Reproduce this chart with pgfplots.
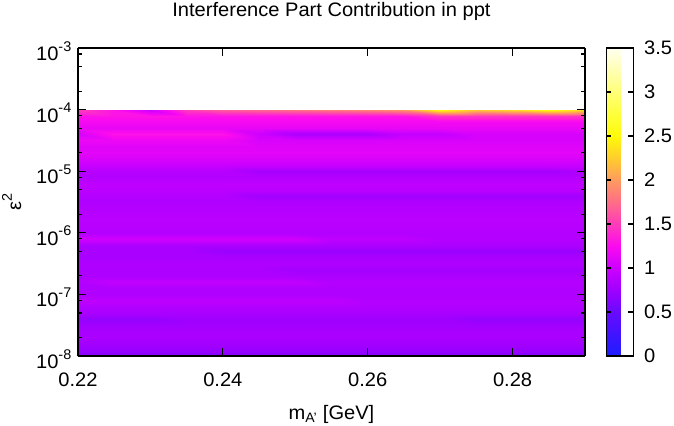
\documentclass[border=0pt]{standalone}
\usepackage{fontspec}
\setmainfont[FakeStretch=1.03]{Liberation Sans}
\usepackage{pgfplots}
\pgfplotsset{compat=1.18}
\newcommand{\fs}{\fontsize{19.5bp}{22bp}\selectfont}
\newcommand{\ex}[1]{\raisebox{0.48em}{\fontsize{14bp}{14bp}\selectfont #1}}
\begin{document}
\fs
\begin{tikzpicture}
\begin{axis}[
  at={(0,0)}, anchor=south west,
  scale only axis, width=507bp, height=308bp,
  view={0}{90},
  xmin=0.22, xmax=0.29, ymin=1e-8, ymax=1e-3, ymode=log,
  xtick={0.22,0.24,0.26,0.28}, xticklabels={0.22,0.24,0.26,0.28},
  ytick={1e-8,1e-7,1e-6,1e-5,1e-4,1e-3},
  yticklabels={10\ex{-8},10\ex{-7},10\ex{-6},10\ex{-5},10\ex{-4},10\ex{-3}},
  minor ytick={2e-8,5e-8,8e-8,2e-7,5e-7,8e-7,2e-6,5e-6,8e-6,2e-5,5e-5,8e-5,2e-4,5e-4,8e-4},
  tick align=inside, xtick pos=both, ytick pos=both,
  major tick length=8bp, minor tick length=4bp,
  every tick/.style={black, line width=1.1bp},
  axis line style={line width=1.1bp},
  axis on top,
  tick label style={font=\fs},
  xticklabel style={yshift=-10bp},
  yticklabel style={yshift=-3bp},
  label style={font=\fs},
  title style={font=\fs, at={(axis description cs:0.5,1)}, anchor=base, yshift=26bp},
  title={Interference Part Contribution in ppt},
  xlabel={m\textsubscript{A'} [GeV]},
  xlabel style={at={(axis description cs:0.5,0)}, anchor=base, yshift=-63bp},
  ylabel={ε\ex{2}},
  ylabel style={at={(axis description cs:-0.112,0.5)}, anchor=base},
  colormap={gp}{
    rgb255=(30,30,255) rgb255=(65,20,255) rgb255=(105,10,255) rgb255=(160,0,255)
    rgb255=(205,0,255) rgb255=(250,10,240) rgb255=(255,60,185) rgb255=(255,110,135)
    rgb255=(255,155,95) rgb255=(255,205,45) rgb255=(255,250,10) rgb255=(255,255,60)
    rgb255=(255,255,120) rgb255=(255,255,180) rgb255=(255,255,240)},
  point meta min=0, point meta max=3.5,
  colorbar,
  colorbar style={
    at={(parent axis.north east)}, anchor=north west, xshift=13bp,
    scale only axis, width=27bp, height=308bp,
    ytick={0,0.5,1,1.5,2,2.5,3,3.5},
    yticklabels={0,0.5,1,1.5,2,2.5,3,3.5},
    tick align=inside, ytick pos=both, yticklabel pos=right,
    major tick length=5bp,
    every tick/.style={black, line width=1.1bp},
    axis line style={line width=1.1bp},
    yticklabel style={font=\fs, xshift=4bp},
  },
]
\addplot3[surf, shader=interp, mesh/cols=15] coordinates {
(0.220,1e-8,0.60) (0.225,1e-8,0.60) (0.230,1e-8,0.60) (0.235,1e-8,0.60) (0.240,1e-8,0.60) (0.245,1e-8,0.60) (0.250,1e-8,0.60) (0.255,1e-8,0.60) (0.260,1e-8,0.60) (0.265,1e-8,0.60) (0.270,1e-8,0.60) (0.275,1e-8,0.60) (0.280,1e-8,0.60) (0.285,1e-8,0.60) (0.290,1e-8,0.60)
(0.220,1.259e-8,0.72) (0.225,1.259e-8,0.72) (0.230,1.259e-8,0.72) (0.235,1.259e-8,0.72) (0.240,1.259e-8,0.72) (0.245,1.259e-8,0.72) (0.250,1.259e-8,0.72) (0.255,1.259e-8,0.72) (0.260,1.259e-8,0.72) (0.265,1.259e-8,0.72) (0.270,1.259e-8,0.72) (0.275,1.259e-8,0.72) (0.280,1.259e-8,0.72) (0.285,1.259e-8,0.72) (0.290,1.259e-8,0.72)
(0.220,1.585e-8,0.76) (0.225,1.585e-8,0.76) (0.230,1.585e-8,0.76) (0.235,1.585e-8,0.76) (0.240,1.585e-8,0.76) (0.245,1.585e-8,0.76) (0.250,1.585e-8,0.76) (0.255,1.585e-8,0.76) (0.260,1.585e-8,0.76) (0.265,1.585e-8,0.76) (0.270,1.585e-8,0.76) (0.275,1.585e-8,0.76) (0.280,1.585e-8,0.76) (0.285,1.585e-8,0.76) (0.290,1.585e-8,0.76)
(0.220,1.995e-8,0.80) (0.225,1.995e-8,0.80) (0.230,1.995e-8,0.80) (0.235,1.995e-8,0.80) (0.240,1.995e-8,0.80) (0.245,1.995e-8,0.80) (0.250,1.995e-8,0.80) (0.255,1.995e-8,0.80) (0.260,1.995e-8,0.80) (0.265,1.995e-8,0.80) (0.270,1.995e-8,0.80) (0.275,1.995e-8,0.80) (0.280,1.995e-8,0.80) (0.285,1.995e-8,0.80) (0.290,1.995e-8,0.80)
(0.220,2.512e-8,0.80) (0.225,2.512e-8,0.80) (0.230,2.512e-8,0.80) (0.235,2.512e-8,0.80) (0.240,2.512e-8,0.80) (0.245,2.512e-8,0.80) (0.250,2.512e-8,0.80) (0.255,2.512e-8,0.80) (0.260,2.512e-8,0.80) (0.265,2.512e-8,0.80) (0.270,2.512e-8,0.80) (0.275,2.512e-8,0.80) (0.280,2.512e-8,0.80) (0.285,2.512e-8,0.80) (0.290,2.512e-8,0.80)
(0.220,3.162e-8,0.76) (0.225,3.162e-8,0.76) (0.230,3.162e-8,0.76) (0.235,3.162e-8,0.76) (0.240,3.162e-8,0.76) (0.245,3.162e-8,0.76) (0.250,3.162e-8,0.76) (0.255,3.162e-8,0.76) (0.260,3.162e-8,0.76) (0.265,3.162e-8,0.76) (0.270,3.162e-8,0.76) (0.275,3.162e-8,0.76) (0.280,3.162e-8,0.76) (0.285,3.162e-8,0.76) (0.290,3.162e-8,0.76)
(0.220,3.981e-8,0.70) (0.225,3.981e-8,0.70) (0.230,3.981e-8,0.70) (0.235,3.981e-8,0.75) (0.240,3.981e-8,0.75) (0.245,3.981e-8,0.75) (0.250,3.981e-8,0.75) (0.255,3.981e-8,0.75) (0.260,3.981e-8,0.75) (0.265,3.981e-8,0.75) (0.270,3.981e-8,0.75) (0.275,3.981e-8,0.70) (0.280,3.981e-8,0.70) (0.285,3.981e-8,0.70) (0.290,3.981e-8,0.70)
(0.220,5.012e-8,0.80) (0.225,5.012e-8,0.80) (0.230,5.012e-8,0.80) (0.235,5.012e-8,0.80) (0.240,5.012e-8,0.80) (0.245,5.012e-8,0.80) (0.250,5.012e-8,0.80) (0.255,5.012e-8,0.80) (0.260,5.012e-8,0.80) (0.265,5.012e-8,0.80) (0.270,5.012e-8,0.80) (0.275,5.012e-8,0.80) (0.280,5.012e-8,0.80) (0.285,5.012e-8,0.80) (0.290,5.012e-8,0.80)
(0.220,6.310e-8,0.84) (0.225,6.310e-8,0.84) (0.230,6.310e-8,0.84) (0.235,6.310e-8,0.84) (0.240,6.310e-8,0.84) (0.245,6.310e-8,0.84) (0.250,6.310e-8,0.84) (0.255,6.310e-8,0.84) (0.260,6.310e-8,0.84) (0.265,6.310e-8,0.84) (0.270,6.310e-8,0.84) (0.275,6.310e-8,0.84) (0.280,6.310e-8,0.84) (0.285,6.310e-8,0.84) (0.290,6.310e-8,0.84)
(0.220,7.943e-8,0.92) (0.225,7.943e-8,0.92) (0.230,7.943e-8,0.92) (0.235,7.943e-8,0.92) (0.240,7.943e-8,0.92) (0.245,7.943e-8,0.92) (0.250,7.943e-8,0.92) (0.255,7.943e-8,0.92) (0.260,7.943e-8,0.86) (0.265,7.943e-8,0.86) (0.270,7.943e-8,0.86) (0.275,7.943e-8,0.86) (0.280,7.943e-8,0.86) (0.285,7.943e-8,0.86) (0.290,7.943e-8,0.86)
(0.220,1e-7,0.84) (0.225,1e-7,0.84) (0.230,1e-7,0.84) (0.235,1e-7,0.84) (0.240,1e-7,0.84) (0.245,1e-7,0.84) (0.250,1e-7,0.84) (0.255,1e-7,0.84) (0.260,1e-7,0.84) (0.265,1e-7,0.84) (0.270,1e-7,0.84) (0.275,1e-7,0.84) (0.280,1e-7,0.84) (0.285,1e-7,0.84) (0.290,1e-7,0.84)
(0.220,1.259e-7,0.84) (0.225,1.259e-7,0.84) (0.230,1.259e-7,0.84) (0.235,1.259e-7,0.84) (0.240,1.259e-7,0.84) (0.245,1.259e-7,0.84) (0.250,1.259e-7,0.84) (0.255,1.259e-7,0.84) (0.260,1.259e-7,0.84) (0.265,1.259e-7,0.84) (0.270,1.259e-7,0.84) (0.275,1.259e-7,0.84) (0.280,1.259e-7,0.84) (0.285,1.259e-7,0.84) (0.290,1.259e-7,0.84)
(0.220,1.585e-7,0.86) (0.225,1.585e-7,0.94) (0.230,1.585e-7,0.94) (0.235,1.585e-7,0.94) (0.240,1.585e-7,0.94) (0.245,1.585e-7,0.94) (0.250,1.585e-7,0.94) (0.255,1.585e-7,0.86) (0.260,1.585e-7,0.86) (0.265,1.585e-7,0.86) (0.270,1.585e-7,0.86) (0.275,1.585e-7,0.86) (0.280,1.585e-7,0.86) (0.285,1.585e-7,0.86) (0.290,1.585e-7,0.86)
(0.220,1.995e-7,0.82) (0.225,1.995e-7,0.82) (0.230,1.995e-7,0.82) (0.235,1.995e-7,0.82) (0.240,1.995e-7,0.82) (0.245,1.995e-7,0.82) (0.250,1.995e-7,0.82) (0.255,1.995e-7,0.82) (0.260,1.995e-7,0.82) (0.265,1.995e-7,0.82) (0.270,1.995e-7,0.82) (0.275,1.995e-7,0.82) (0.280,1.995e-7,0.82) (0.285,1.995e-7,0.82) (0.290,1.995e-7,0.82)
(0.220,2.512e-7,0.82) (0.225,2.512e-7,0.82) (0.230,2.512e-7,0.82) (0.235,2.512e-7,0.82) (0.240,2.512e-7,0.82) (0.245,2.512e-7,0.82) (0.250,2.512e-7,0.77) (0.255,2.512e-7,0.77) (0.260,2.512e-7,0.77) (0.265,2.512e-7,0.77) (0.270,2.512e-7,0.77) (0.275,2.512e-7,0.77) (0.280,2.512e-7,0.77) (0.285,2.512e-7,0.77) (0.290,2.512e-7,0.77)
(0.220,3.162e-7,0.84) (0.225,3.162e-7,0.84) (0.230,3.162e-7,0.84) (0.235,3.162e-7,0.84) (0.240,3.162e-7,0.84) (0.245,3.162e-7,0.84) (0.250,3.162e-7,0.84) (0.255,3.162e-7,0.84) (0.260,3.162e-7,0.84) (0.265,3.162e-7,0.84) (0.270,3.162e-7,0.84) (0.275,3.162e-7,0.84) (0.280,3.162e-7,0.84) (0.285,3.162e-7,0.84) (0.290,3.162e-7,0.84)
(0.220,3.981e-7,0.80) (0.225,3.981e-7,0.80) (0.230,3.981e-7,0.80) (0.235,3.981e-7,0.80) (0.240,3.981e-7,0.80) (0.245,3.981e-7,0.80) (0.250,3.981e-7,0.80) (0.255,3.981e-7,0.80) (0.260,3.981e-7,0.80) (0.265,3.981e-7,0.80) (0.270,3.981e-7,0.80) (0.275,3.981e-7,0.80) (0.280,3.981e-7,0.80) (0.285,3.981e-7,0.80) (0.290,3.981e-7,0.80)
(0.220,5.012e-7,0.80) (0.225,5.012e-7,0.80) (0.230,5.012e-7,0.80) (0.235,5.012e-7,0.80) (0.240,5.012e-7,0.72) (0.245,5.012e-7,0.72) (0.250,5.012e-7,0.72) (0.255,5.012e-7,0.72) (0.260,5.012e-7,0.72) (0.265,5.012e-7,0.72) (0.270,5.012e-7,0.72) (0.275,5.012e-7,0.72) (0.280,5.012e-7,0.72) (0.285,5.012e-7,0.72) (0.290,5.012e-7,0.72)
(0.220,6.310e-7,0.82) (0.225,6.310e-7,0.82) (0.230,6.310e-7,0.82) (0.235,6.310e-7,0.82) (0.240,6.310e-7,0.82) (0.245,6.310e-7,0.82) (0.250,6.310e-7,0.82) (0.255,6.310e-7,0.82) (0.260,6.310e-7,0.82) (0.265,6.310e-7,0.82) (0.270,6.310e-7,0.82) (0.275,6.310e-7,0.82) (0.280,6.310e-7,0.82) (0.285,6.310e-7,0.82) (0.290,6.310e-7,0.82)
(0.220,7.943e-7,1.02) (0.225,7.943e-7,1.02) (0.230,7.943e-7,1.02) (0.235,7.943e-7,1.02) (0.240,7.943e-7,1.02) (0.245,7.943e-7,1.02) (0.250,7.943e-7,1.02) (0.255,7.943e-7,0.92) (0.260,7.943e-7,0.92) (0.265,7.943e-7,0.92) (0.270,7.943e-7,0.86) (0.275,7.943e-7,0.86) (0.280,7.943e-7,0.86) (0.285,7.943e-7,0.86) (0.290,7.943e-7,0.86)
(0.220,1e-6,0.86) (0.225,1e-6,0.86) (0.230,1e-6,0.86) (0.235,1e-6,0.86) (0.240,1e-6,0.86) (0.245,1e-6,0.86) (0.250,1e-6,0.86) (0.255,1e-6,0.86) (0.260,1e-6,0.86) (0.265,1e-6,0.86) (0.270,1e-6,0.86) (0.275,1e-6,0.86) (0.280,1e-6,0.86) (0.285,1e-6,0.86) (0.290,1e-6,0.86)
(0.220,1.259e-6,0.88) (0.225,1.259e-6,0.88) (0.230,1.259e-6,0.88) (0.235,1.259e-6,0.88) (0.240,1.259e-6,0.88) (0.245,1.259e-6,0.88) (0.250,1.259e-6,0.88) (0.255,1.259e-6,0.88) (0.260,1.259e-6,0.88) (0.265,1.259e-6,0.88) (0.270,1.259e-6,0.88) (0.275,1.259e-6,0.88) (0.280,1.259e-6,0.88) (0.285,1.259e-6,0.88) (0.290,1.259e-6,0.88)
(0.220,1.585e-6,0.90) (0.225,1.585e-6,0.90) (0.230,1.585e-6,0.90) (0.235,1.585e-6,0.90) (0.240,1.585e-6,0.90) (0.245,1.585e-6,0.90) (0.250,1.585e-6,0.90) (0.255,1.585e-6,0.90) (0.260,1.585e-6,0.90) (0.265,1.585e-6,0.90) (0.270,1.585e-6,0.90) (0.275,1.585e-6,0.90) (0.280,1.585e-6,0.90) (0.285,1.585e-6,0.90) (0.290,1.585e-6,0.90)
(0.220,1.995e-6,0.88) (0.225,1.995e-6,0.88) (0.230,1.995e-6,0.88) (0.235,1.995e-6,0.88) (0.240,1.995e-6,0.88) (0.245,1.995e-6,0.88) (0.250,1.995e-6,0.88) (0.255,1.995e-6,0.88) (0.260,1.995e-6,0.88) (0.265,1.995e-6,0.88) (0.270,1.995e-6,0.88) (0.275,1.995e-6,0.88) (0.280,1.995e-6,0.88) (0.285,1.995e-6,0.88) (0.290,1.995e-6,0.88)
(0.220,2.512e-6,0.86) (0.225,2.512e-6,0.86) (0.230,2.512e-6,0.86) (0.235,2.512e-6,0.86) (0.240,2.512e-6,0.86) (0.245,2.512e-6,0.86) (0.250,2.512e-6,0.86) (0.255,2.512e-6,0.86) (0.260,2.512e-6,0.86) (0.265,2.512e-6,0.86) (0.270,2.512e-6,0.86) (0.275,2.512e-6,0.86) (0.280,2.512e-6,0.86) (0.285,2.512e-6,0.86) (0.290,2.512e-6,0.86)
(0.220,3.162e-6,0.84) (0.225,3.162e-6,0.84) (0.230,3.162e-6,0.84) (0.235,3.162e-6,0.84) (0.240,3.162e-6,0.84) (0.245,3.162e-6,0.84) (0.250,3.162e-6,0.84) (0.255,3.162e-6,0.84) (0.260,3.162e-6,0.84) (0.265,3.162e-6,0.84) (0.270,3.162e-6,0.84) (0.275,3.162e-6,0.84) (0.280,3.162e-6,0.84) (0.285,3.162e-6,0.84) (0.290,3.162e-6,0.84)
(0.220,3.981e-6,0.86) (0.225,3.981e-6,0.86) (0.230,3.981e-6,0.86) (0.235,3.981e-6,0.86) (0.240,3.981e-6,0.86) (0.245,3.981e-6,0.76) (0.250,3.981e-6,0.76) (0.255,3.981e-6,0.76) (0.260,3.981e-6,0.76) (0.265,3.981e-6,0.76) (0.270,3.981e-6,0.76) (0.275,3.981e-6,0.76) (0.280,3.981e-6,0.76) (0.285,3.981e-6,0.76) (0.290,3.981e-6,0.76)
(0.220,5.012e-6,0.90) (0.225,5.012e-6,0.90) (0.230,5.012e-6,0.90) (0.235,5.012e-6,0.90) (0.240,5.012e-6,0.90) (0.245,5.012e-6,0.90) (0.250,5.012e-6,0.90) (0.255,5.012e-6,0.90) (0.260,5.012e-6,0.90) (0.265,5.012e-6,0.90) (0.270,5.012e-6,0.90) (0.275,5.012e-6,0.90) (0.280,5.012e-6,0.90) (0.285,5.012e-6,0.90) (0.290,5.012e-6,0.90)
(0.220,6.310e-6,0.92) (0.225,6.310e-6,0.92) (0.230,6.310e-6,0.92) (0.235,6.310e-6,0.92) (0.240,6.310e-6,0.92) (0.245,6.310e-6,0.92) (0.250,6.310e-6,0.92) (0.255,6.310e-6,0.92) (0.260,6.310e-6,0.92) (0.265,6.310e-6,0.92) (0.270,6.310e-6,0.92) (0.275,6.310e-6,0.92) (0.280,6.310e-6,0.92) (0.285,6.310e-6,0.92) (0.290,6.310e-6,0.92)
(0.220,7.943e-6,0.86) (0.225,7.943e-6,0.86) (0.230,7.943e-6,0.86) (0.235,7.943e-6,0.86) (0.240,7.943e-6,0.86) (0.245,7.943e-6,0.86) (0.250,7.943e-6,0.86) (0.255,7.943e-6,0.86) (0.260,7.943e-6,0.86) (0.265,7.943e-6,0.86) (0.270,7.943e-6,0.86) (0.275,7.943e-6,0.86) (0.280,7.943e-6,0.86) (0.285,7.943e-6,0.86) (0.290,7.943e-6,0.86)
(0.220,1e-5,0.88) (0.225,1e-5,0.88) (0.230,1e-5,0.88) (0.235,1e-5,0.88) (0.240,1e-5,0.88) (0.245,1e-5,0.78) (0.250,1e-5,0.78) (0.255,1e-5,0.78) (0.260,1e-5,0.78) (0.265,1e-5,0.78) (0.270,1e-5,0.78) (0.275,1e-5,0.78) (0.280,1e-5,0.78) (0.285,1e-5,0.78) (0.290,1e-5,0.84)
(0.220,1.259e-5,0.98) (0.225,1.259e-5,0.98) (0.230,1.259e-5,0.98) (0.235,1.259e-5,0.98) (0.240,1.259e-5,0.98) (0.245,1.259e-5,0.98) (0.250,1.259e-5,0.98) (0.255,1.259e-5,0.98) (0.260,1.259e-5,0.98) (0.265,1.259e-5,0.98) (0.270,1.259e-5,0.98) (0.275,1.259e-5,0.98) (0.280,1.259e-5,0.98) (0.285,1.259e-5,0.98) (0.290,1.259e-5,0.98)
(0.220,1.585e-5,1.06) (0.225,1.585e-5,1.06) (0.230,1.585e-5,1.06) (0.235,1.585e-5,1.06) (0.240,1.585e-5,1.06) (0.245,1.585e-5,1.06) (0.250,1.585e-5,1.06) (0.255,1.585e-5,1.06) (0.260,1.585e-5,1.06) (0.265,1.585e-5,1.06) (0.270,1.585e-5,1.06) (0.275,1.585e-5,1.06) (0.280,1.585e-5,1.06) (0.285,1.585e-5,1.06) (0.290,1.585e-5,1.06)
(0.220,1.995e-5,1.12) (0.225,1.995e-5,1.12) (0.230,1.995e-5,1.12) (0.235,1.995e-5,1.12) (0.240,1.995e-5,1.12) (0.245,1.995e-5,1.12) (0.250,1.995e-5,1.12) (0.255,1.995e-5,1.12) (0.260,1.995e-5,1.12) (0.265,1.995e-5,1.12) (0.270,1.995e-5,1.12) (0.275,1.995e-5,1.12) (0.280,1.995e-5,1.12) (0.285,1.995e-5,1.12) (0.290,1.995e-5,1.12)
(0.220,2.512e-5,1.10) (0.225,2.512e-5,1.10) (0.230,2.512e-5,1.10) (0.235,2.512e-5,1.10) (0.240,2.512e-5,1.10) (0.245,2.512e-5,1.10) (0.250,2.512e-5,1.10) (0.255,2.512e-5,1.10) (0.260,2.512e-5,1.10) (0.265,2.512e-5,1.10) (0.270,2.512e-5,1.10) (0.275,2.512e-5,1.10) (0.280,2.512e-5,1.10) (0.285,2.512e-5,1.10) (0.290,2.512e-5,1.10)
(0.220,3.162e-5,1.18) (0.225,3.162e-5,1.18) (0.230,3.162e-5,1.18) (0.235,3.162e-5,1.18) (0.240,3.162e-5,1.18) (0.245,3.162e-5,1.06) (0.250,3.162e-5,1.06) (0.255,3.162e-5,1.06) (0.260,3.162e-5,1.06) (0.265,3.162e-5,1.06) (0.270,3.162e-5,1.06) (0.275,3.162e-5,1.06) (0.280,3.162e-5,1.06) (0.285,3.162e-5,1.06) (0.290,3.162e-5,1.06)
(0.220,3.981e-5,1.05) (0.225,3.981e-5,1.30) (0.230,3.981e-5,1.30) (0.235,3.981e-5,1.30) (0.240,3.981e-5,1.30) (0.245,3.981e-5,1.00) (0.250,3.981e-5,0.82) (0.255,3.981e-5,0.82) (0.260,3.981e-5,0.82) (0.265,3.981e-5,0.95) (0.270,3.981e-5,0.95) (0.275,3.981e-5,1.05) (0.280,3.981e-5,1.05) (0.285,3.981e-5,1.05) (0.290,3.981e-5,1.05)
(0.220,5.012e-5,1.15) (0.225,5.012e-5,1.15) (0.230,5.012e-5,1.15) (0.235,5.012e-5,1.15) (0.240,5.012e-5,1.15) (0.245,5.012e-5,1.15) (0.250,5.012e-5,1.15) (0.255,5.012e-5,1.15) (0.260,5.012e-5,1.15) (0.265,5.012e-5,1.15) (0.270,5.012e-5,1.15) (0.275,5.012e-5,1.15) (0.280,5.012e-5,1.15) (0.285,5.012e-5,1.15) (0.290,5.012e-5,1.15)
(0.220,6.310e-5,1.22) (0.225,6.310e-5,1.22) (0.230,6.310e-5,1.22) (0.235,6.310e-5,1.22) (0.240,6.310e-5,1.22) (0.245,6.310e-5,1.22) (0.250,6.310e-5,1.22) (0.255,6.310e-5,1.22) (0.260,6.310e-5,1.22) (0.265,6.310e-5,1.22) (0.270,6.310e-5,1.22) (0.275,6.310e-5,1.22) (0.280,6.310e-5,1.22) (0.285,6.310e-5,1.22) (0.290,6.310e-5,1.22)
(0.220,7.943e-5,1.30) (0.225,7.943e-5,1.30) (0.230,7.943e-5,1.30) (0.235,7.943e-5,1.30) (0.240,7.943e-5,1.30) (0.245,7.943e-5,1.30) (0.250,7.943e-5,1.30) (0.255,7.943e-5,1.30) (0.260,7.943e-5,1.30) (0.265,7.943e-5,1.30) (0.270,7.943e-5,1.45) (0.275,7.943e-5,1.45) (0.280,7.943e-5,1.45) (0.285,7.943e-5,1.45) (0.290,7.943e-5,1.45)
(0.220,1e-4,1.50) (0.225,1e-4,1.30) (0.230,1e-4,1.00) (0.235,1e-4,1.50) (0.240,1e-4,1.65) (0.245,1e-4,1.70) (0.250,1e-4,1.75) (0.255,1e-4,1.80) (0.260,1e-4,1.85) (0.265,1e-4,1.95) (0.270,1e-4,2.50) (0.275,1e-4,2.20) (0.280,1e-4,2.30) (0.285,1e-4,2.50) (0.290,1e-4,2.30)
};
\end{axis}
\pgfresetboundingbox
\path (-78bp,-70bp) rectangle (596bp,356bp);
\end{tikzpicture}
\end{document}
